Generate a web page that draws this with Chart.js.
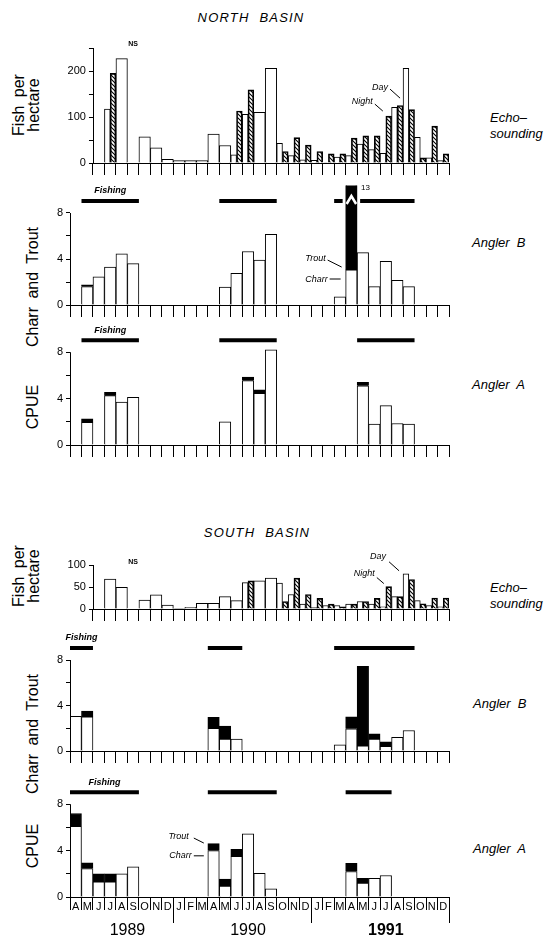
<!DOCTYPE html>
<html>
<head>
<meta charset="utf-8">
<script src="https://cdn.jsdelivr.net/npm/chart.js@4.4.0/dist/chart.umd.min.js"></script>
<style>
  html, body { margin: 0; padding: 0; background: #fff; }
  #page { position: relative; width: 545px; height: 940px; overflow: hidden; font-family: "Liberation Sans", Arial, sans-serif; color: #000; }
  canvas { position: absolute; left: 0; }
  .t { position: absolute; white-space: nowrap; line-height: 1; }
  .c { transform: translate(-50%, -50%); }
  .rot { transform: translate(-50%, -50%) rotate(-90deg); text-align: center; }
  .title { font-style: italic; font-size: 13px; letter-spacing: 1.2px; word-spacing: 5px; }
  .ytitle { font-size: 16px; word-spacing: 4px; }
  .side { font-style: italic; font-size: 13px; }
</style>
</head>
<body>
<div id="page">
  <div class="t c title" style="left:251px;top:17px">NORTH BASIN</div>
  <div class="t c title" style="left:257px;top:532px">SOUTH BASIN</div>

  <div class="t rot ytitle" style="left:26px;top:105px;line-height:15px">Fish per<br>hectare</div>
  <div class="t rot ytitle" style="left:33px;top:287px">Charr and Trout</div>
  <div class="t rot ytitle" style="left:33px;top:407px">CPUE</div>
  <div class="t rot ytitle" style="left:26px;top:576px;line-height:15px">Fish per<br>hectare</div>
  <div class="t rot ytitle" style="left:33px;top:734px">Charr and Trout</div>
  <div class="t rot ytitle" style="left:33px;top:846px">CPUE</div>

  <div class="t side" style="left:490px;top:110px;line-height:16px">Echo&ndash;<br>sounding</div>
  <div class="t side" style="left:472px;top:236px">Angler&nbsp; B</div>
  <div class="t side" style="left:472px;top:378px">Angler&nbsp; A</div>
  <div class="t side" style="left:490px;top:580px;line-height:16px">Echo&ndash;<br>sounding</div>
  <div class="t side" style="left:473px;top:697px">Angler&nbsp; B</div>
  <div class="t side" style="left:473px;top:842px">Angler&nbsp; A</div>
</div>
<script>
// Months April 1989 - December 1991
const MONTHS = ['A','M','J','J','A','S','O','N','D',
                'J','F','M','A','M','J','J','A','S','O','N','D',
                'J','F','M','A','M','J','J','A','S','O','N','D'];
const YEARS = ['1989', '1990', '1991'];
const YEAR_SPANS = [[0, 8], [9, 20], [21, 32]];
const ECHO_START = 2;                       // echo-sounding axis starts June 1989
const ECHO_MONTHS = MONTHS.slice(ECHO_START);

const ECHO_N_TICKS = [0, 50, 100, 150, 200, 250];
const ECHO_N_LABELS = [0, 100, 200];
const ECHO_S_TICKS = [0, 50, 100];
const ECHO_S_LABELS = [0, 50, 100];
const CPUE_TICKS = [0, 2, 4, 6, 8];
const CPUE_LABELS = [0, 4, 8];

// North basin echo-sounding, fish per hectare (Jun 1989 - Dec 1991)
const northDay   = [null, 117, 227, null, 57, 33, 8,
                    5, 5, 5, 63, 38, 18, 106, 110, 206, 43, 16, 7,
                    6, 1, 13, 16, 41, 29, 21, 121, 206, 56, 11, 5];
const northNight = [null, 195, null, null, null, null, null,
                    null, null, null, null, null, 113, 159, null, null, 25, 55, 39,
                    25, 20, 20, 54, 59, 59, 102, 125, 116, 11, 80, 20];

// South basin echo-sounding
const southDay   = [null, 68, 49, null, 20, 32, 9,
                    1.5, 4, 13, 13, 28, 19, 60, 64, 70, 59, 33, 11,
                    3, 8, 8, 11, 17, 11, 5, 28, 80, 19, 8, 5];
const southNight = [null, null, null, null, null, null, null,
                    null, null, null, null, null, null, 64, null, null, 17, 70, 33,
                    24, 11, 5, 11, 17, 24, 51, 28, 67, 12, 25, 25];

// CPUE, Apr 1989 - Dec 1991 (charr white, trout black)
const northBCharr = [null, 1.6, 2.45, 3.3, 4.45, 3.6, null, null, null,
                     null, null, null, null, 1.55, 2.75, 4.65, 3.9, 6.15, null, null, null,
                     null, null, 0.7, 3.05, 4.55, 1.6, 3.8, 2.15, 1.6, null, null, null];
const northBTrout = [null, 0.15, null, null, null, null, null, null, null,
                     null, null, null, null, null, null, null, null, null, null, null, null,
                     null, null, null, 9.95, null, null, null, null, null, null, null, null];
const northACharr = [null, 1.95, null, 4.25, 3.7, 4.1, null, null, null,
                     null, null, null, null, 2.0, null, 5.55, 4.45, 8.2, null, null, null,
                     null, null, null, null, 5.1, 1.8, 3.4, 1.85, 1.8, null, null, null];
const northATrout = [null, 0.3, null, 0.3, null, null, null, null, null,
                     null, null, null, null, null, null, 0.3, 0.3, null, null, null, null,
                     null, null, null, null, 0.3, null, null, null, null, null, null, null];
const southBCharr = [3.05, 3.0, null, null, null, null, null, null, null,
                     null, null, null, 2.0, 1.05, 1.05, null, null, null, null, null, null,
                     null, null, 0.55, 1.95, 0.45, 1.05, 0.4, 1.2, 1.8, null, null, null];
const southBTrout = [null, 0.5, null, null, null, null, null, null, null,
                     null, null, null, 0.95, 1.15, null, null, null, null, null, null, null,
                     null, null, null, 1.05, 7.0, 0.45, 0.4, null, null, null, null, null];
const southACharr = [6.1, 2.45, 1.3, 1.3, 2.0, 2.6, null, null, null,
                     null, null, null, 4.0, 0.95, 3.5, 5.45, 2.05, 0.7, null, null, null,
                     null, null, null, 2.2, 1.2, 1.6, 1.85, null, null, null, null, null];
const southATrout = [1.1, 0.5, 0.7, 0.7, null, null, null, null, null,
                     null, null, null, 0.6, 0.6, 0.6, null, null, null, null, null, null,
                     null, null, null, 0.7, 0.4, null, null, null, null, null, null, null];

// Fishing seasons as [first month, last month] indices
const fishNorthB = [[1, 5], [13, 17], [23, 29]];
const fishNorthA = [[1, 5], [13, 17], [25, 29]];
const fishSouthB = [[0, 1], [12, 14], [23, 29]];
const fishSouthA = [[0, 5], [12, 17], [24, 27]];
const NORTH_B_OFFSCALE = 24;   // April 1991 total = 13

const page = document.getElementById('page');
const X0 = 70, X1 = 449;
const SLOT = (X1 - X0) / MONTHS.length;

Chart.defaults.font.family = '"Liberation Sans", Arial, sans-serif';
Chart.defaults.font.size = 11;
Chart.defaults.color = '#000';
Chart.defaults.animation = false;
Chart.defaults.events = [];
Chart.defaults.plugins.legend.display = false;
Chart.defaults.plugins.tooltip.enabled = false;

function hatchPattern() {
  const c = document.createElement('canvas');
  c.width = 4; c.height = 4;
  const g = c.getContext('2d');
  g.strokeStyle = '#000';
  g.lineWidth = 1.1;
  g.beginPath();
  g.moveTo(0, 0); g.lineTo(4, 4);
  g.moveTo(-1, 3); g.lineTo(1, 5);
  g.moveTo(3, -1); g.lineTo(5, 1);
  g.stroke();
  return g.createPattern(c, 'repeat');
}
const HATCH = hatchPattern();

function slotLeft(xs, i) {
  const w = xs.getPixelForValue(1) - xs.getPixelForValue(0);
  return xs.getPixelForValue(i) - w / 2;
}

const deco = {
  id: 'deco',
  beforeDatasetsDraw(chart, args, o) {
    if (!o.fishing) return;
    const ctx = chart.ctx, xs = chart.scales.x, ys = chart.scales.y;
    const w = xs.getPixelForValue(1) - xs.getPixelForValue(0);
    const y = ys.getPixelForValue(8) - 12;
    ctx.save();
    ctx.strokeStyle = '#000';
    ctx.lineWidth = 4;
    o.fishing.forEach(([s, e]) => {
      const a = slotLeft(xs, s), b = slotLeft(xs, e) + w;
      let segs = [[a, b]];
      if (o.breakAt != null && o.breakAt >= s && o.breakAt <= e) {
        const bl = slotLeft(xs, o.breakAt);
        segs = [[a, bl - 3], [bl + w + 3, b]];
      }
      segs.forEach(([p, q]) => {
        if (q <= p) return;
        ctx.beginPath(); ctx.moveTo(p, y); ctx.lineTo(q, y); ctx.stroke();
      });
    });
    if (o.fishLabel) {
      const [s, e] = o.fishing[0];
      const cx = (slotLeft(xs, s) + slotLeft(xs, e) + w) / 2;
      ctx.font = 'italic bold 9px "Liberation Sans", Arial, sans-serif';
      ctx.fillStyle = '#000';
      ctx.textAlign = 'center';
      ctx.textBaseline = 'middle';
      ctx.fillText('Fishing', cx, y - 10);
    }
    ctx.restore();
  },
  afterDraw(chart, args, o) {
    const ctx = chart.ctx, xs = chart.scales.x, ys = chart.scales.y;
    const w = xs.getPixelForValue(1) - xs.getPixelForValue(0);
    const area = chart.chartArea;
    ctx.save();
    // y axis line
    if (o.axisTop != null) {
      ctx.strokeStyle = '#000';
      ctx.lineWidth = 1;
      const x = Math.round(area.left) + 0.5;
      ctx.beginPath();
      ctx.moveTo(x, ys.getPixelForValue(0));
      ctx.lineTo(x, ys.getPixelForValue(o.axisTop));
      ctx.stroke();
    }
    // break mark on the off-scale bar
    if (o.breakAt != null) {
      const bl = slotLeft(xs, o.breakAt);
      const y = ys.getPixelForValue(8) - 12;
      ctx.strokeStyle = '#fff';
      ctx.lineWidth = 2.5;
      ctx.beginPath();
      ctx.moveTo(bl + 1, y + 3);
      ctx.lineTo(bl + w / 2, y - 5);
      ctx.lineTo(bl + w - 1, y + 3);
      ctx.stroke();
      ctx.fillStyle = '#000';
      ctx.font = '8px "Liberation Sans", Arial, sans-serif';
      ctx.textAlign = 'left';
      ctx.textBaseline = 'middle';
      ctx.fillText(o.breakText, bl + w + 4, area.top + 2);
    }
    // annotations
    (o.notes || []).forEach(n => {
      let ax = slotLeft(xs, n.i) + (n.half === 'r' ? w / 2 : 0);
      if (n.align === 'center') ax = xs.getPixelForValue(n.i);
      const ay = ys.getPixelForValue(n.v);
      ctx.fillStyle = '#000';
      ctx.font = n.font || 'italic 9px "Liberation Sans", Arial, sans-serif';
      ctx.textAlign = n.align || 'right';
      ctx.textBaseline = 'middle';
      ctx.fillText(n.text, ax + n.tx, ay + n.ty);
      if (n.line) {
        ctx.strokeStyle = '#000';
        ctx.lineWidth = 1;
        ctx.beginPath();
        ctx.moveTo(ax + n.line[0], ay + n.line[1]);
        ctx.lineTo(ax + n.line[2], ay + n.line[3]);
        ctx.stroke();
      }
    });
    // year dividers and labels
    if (o.years) {
      const y0 = ys.getPixelForValue(0);
      ctx.strokeStyle = '#000';
      ctx.lineWidth = 1;
      ctx.fillStyle = '#000';
      ctx.textAlign = 'center';
      ctx.textBaseline = 'middle';
      YEAR_SPANS.forEach(([s, e], k) => {
        const xr = Math.round(slotLeft(xs, e) + w) + 0.5;
        ctx.beginPath(); ctx.moveTo(xr, y0); ctx.lineTo(xr, y0 + 26); ctx.stroke();
        const cx = (slotLeft(xs, s) + slotLeft(xs, e) + w) / 2 + w / 2;
        ctx.font = (k === 2 ? 'bold ' : '') + '16px "Liberation Sans", Arial, sans-serif';
        ctx.fillText(YEARS[k], cx, y0 + 34);
      });
    }
    ctx.restore();
  }
};
Chart.register(deco);

function echoSets(day, night) {
  return [
    { data: day, backgroundColor: '#fff', borderColor: '#000', borderWidth: 1, skipNull: true },
    { data: night, backgroundColor: HATCH, borderColor: '#000', borderWidth: 1, skipNull: true }
  ];
}
function cpueSets(charr, trout) {
  return [
    { data: charr, backgroundColor: '#fff', borderColor: '#000', borderWidth: 1, stack: 's' },
    { data: trout, backgroundColor: '#000', borderColor: '#000', borderWidth: 1, stack: 's' }
  ];
}

function panel(p) {
  const cv = document.createElement('canvas');
  const chartTop = p.zero - p.max * p.ppu;
  cv.width = 545;
  cv.height = Math.round(p.zero - p.top + p.below);
  cv.style.top = p.top + 'px';
  page.appendChild(cv);
  const left = p.echo ? X0 + SLOT * ECHO_START : X0;
  return new Chart(cv, {
    type: 'bar',
    data: { labels: p.labels, datasets: p.datasets },
    options: {
      responsive: false,
      categoryPercentage: 1,
      barPercentage: 1,
      layout: { padding: { left: 0, right: 545 - X1, top: chartTop - p.top, bottom: 0 } },
      scales: {
        x: {
          stacked: !p.echo,
          offset: true,
          grid: { offset: true, drawOnChartArea: false, drawTicks: true, tickLength: p.tick || 12, color: '#000' },
          border: { display: true, color: '#000', width: 1 },
          ticks: { display: !!p.monthLabels, autoSkip: false, maxRotation: 0, minRotation: 0, padding: -10, font: { size: 11 } },
          afterFit: s => { s.height = p.below; }
        },
        y: {
          stacked: !p.echo,
          min: 0,
          max: p.max,
          afterFit: s => { s.width = left; },
          afterBuildTicks: s => { s.ticks = p.yTicks.map(v => ({ value: v })); },
          ticks: { padding: 3, font: { size: 11 }, callback: v => p.yLabels.includes(v) ? String(v) : '' },
          grid: { drawOnChartArea: false, drawTicks: true, tickLength: 4, color: '#000' },
          border: { display: false }
        }
      },
      plugins: { deco: p.deco }
    }
  });
}

// North basin
panel({
  echo: true, labels: ECHO_MONTHS, datasets: echoSets(northDay, northNight),
  top: 28, zero: 163, ppu: 0.46, max: 250, below: 14,
  yTicks: ECHO_N_TICKS, yLabels: ECHO_N_LABELS,
  deco: {
    axisTop: 250,
    notes: [
      { text: 'NS', i: 3, v: 250, tx: 0, ty: -4, align: 'center', font: 'bold 7px "Liberation Sans", Arial, sans-serif' },
      { text: 'Night', i: 25, half: 'r', v: 102, tx: -13, ty: -15, line: [-11, -12, -3, -5] },
      { text: 'Day', i: 27, v: 141, tx: -15, ty: -11, line: [-13, -9, -3, 0] }
    ]
  }
});
panel({
  labels: MONTHS, datasets: cpueSets(northBCharr, northBTrout),
  top: 172, zero: 305, ppu: 11.5, max: 10.4, below: 14,
  yTicks: CPUE_TICKS, yLabels: CPUE_LABELS,
  deco: {
    axisTop: 8, fishing: fishNorthB, fishLabel: true, breakAt: NORTH_B_OFFSCALE, breakText: '13',
    notes: [
      { text: 'Trout', i: 24, v: 3.3, tx: -20, ty: -9, line: [-18, -7, -4, 0] },
      { text: 'Charr', i: 24, v: 2.26, tx: -18, ty: 0, line: [-16, 0, -5, 0] }
    ]
  }
});
panel({
  labels: MONTHS, datasets: cpueSets(northACharr, northATrout),
  top: 322, zero: 445, ppu: 11.6, max: 8.3, below: 14,
  yTicks: CPUE_TICKS, yLabels: CPUE_LABELS,
  deco: { axisTop: 8, fishing: fishNorthA, fishLabel: true }
});

// South basin
panel({
  echo: true, labels: ECHO_MONTHS, datasets: echoSets(southDay, southNight),
  top: 545, zero: 609, ppu: 0.44, max: 100, below: 14,
  yTicks: ECHO_S_TICKS, yLabels: ECHO_S_LABELS,
  deco: {
    axisTop: 100,
    notes: [
      { text: 'NS', i: 3, v: 100, tx: 0, ty: -3, align: 'center', font: 'bold 7px "Liberation Sans", Arial, sans-serif' },
      { text: 'Night', i: 25, half: 'r', v: 51, tx: -11, ty: -13, line: [-9, -9, -2, -3] },
      { text: 'Day', i: 27, v: 80, tx: -17, ty: -17, line: [-14, -12, -4, -3] }
    ]
  }
});
panel({
  labels: MONTHS, datasets: cpueSets(southBCharr, southBTrout),
  top: 630, zero: 751, ppu: 11.375, max: 8, below: 14,
  yTicks: CPUE_TICKS, yLabels: CPUE_LABELS,
  deco: { axisTop: 8, fishing: fishSouthB, fishLabel: true }
});
panel({
  labels: MONTHS, datasets: cpueSets(southACharr, southATrout), monthLabels: true, tick: 13,
  top: 775, zero: 897, ppu: 11.6, max: 8, below: 43,
  yTicks: CPUE_TICKS, yLabels: CPUE_LABELS,
  deco: {
    axisTop: 8, fishing: fishSouthA, fishLabel: true, years: true,
    notes: [
      { text: 'Trout', i: 12, v: 4.65, tx: -19, ty: -7, line: [-14, -5, -4, 0] },
      { text: 'Charr', i: 12, v: 3.55, tx: -16, ty: 0, line: [-14, 0, -4, 0] }
    ]
  }
});
</script>
</body>
</html>
